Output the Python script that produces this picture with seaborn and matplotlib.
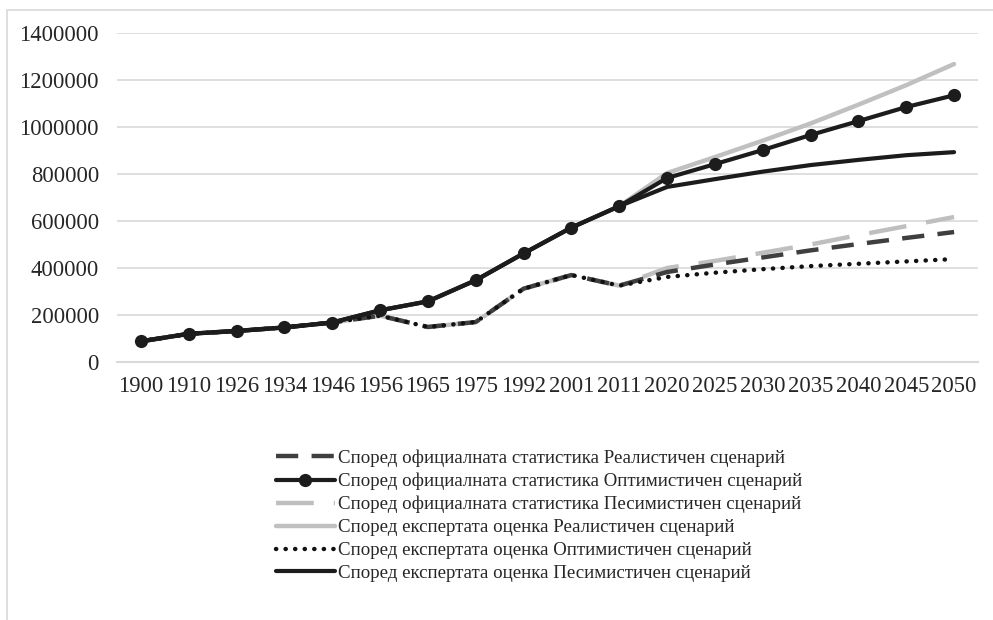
import matplotlib
matplotlib.use("Agg")
import matplotlib.pyplot as plt
import seaborn as sns
import pandas as pd
from matplotlib.patches import Rectangle

years = ["1900", "1910", "1926", "1934", "1946", "1956", "1965", "1975", "1992",
         "2001", "2011", "2020", "2025", "2030", "2035", "2040", "2045", "2050"]

hist_low = [88000, 120000, 132000, 147000, 168000, 197000, 149000, 170000, 312000, 370000, 325000]
hist_high = [88000, 120000, 132000, 147000, 168000, 220000, 258000, 348000, 462000, 572000, 663000]

official_realistic = hist_low + [383000, 415000, 445000, 475000, 502000, 528000, 553000]
official_optimistic = hist_high + [783000, 842000, 902000, 966000, 1025000, 1085000, 1135000]
official_pessimistic = hist_low + [400000, 430000, 465000, 500000, 540000, 578000, 617000]
expert_realistic = hist_high + [804000, 872000, 942000, 1015000, 1095000, 1178000, 1268000]
expert_optimistic = hist_low + [362000, 380000, 395000, 408000, 418000, 428000, 438000]
expert_pessimistic = hist_high + [745000, 778000, 810000, 838000, 860000, 880000, 893000]

labels = [
    "Според официалната статистика Реалистичен сценарий",
    "Според официалната статистика Оптимистичен сценарий",
    "Според официалната статистика Песимистичен сценарий",
    "Според експертата оценка Реалистичен сценарий",
    "Според експертата оценка Оптимистичен сценарий",
    "Според експертата оценка Песимистичен сценарий",
]
series = [official_realistic, official_optimistic, official_pessimistic,
          expert_realistic, expert_optimistic, expert_pessimistic]

styles = [
    dict(color="#3f3f3f", lw=3.2, dashes=(5, 3), marker=None, cap="butt"),
    dict(color="#1c1c1c", lw=3.0, dashes=None, marker="o", cap="round"),
    dict(color="#bfbfbf", lw=3.2, dashes=(8.5, 4.5), marker=None, cap="butt"),
    dict(color="#c0c0c0", lw=3.2, dashes=None, marker=None, cap="round"),
    dict(color="#111111", lw=3.2, dashes=(0.05, 2.1), marker=None, cap="round"),
    dict(color="#1c1c1c", lw=3.0, dashes=None, marker=None, cap="round"),
]
draw_order = [3, 2, 0, 4, 5, 1]

sns.set_theme(style="white")
plt.rcParams["font.family"] = ["Liberation Serif", "DejaVu Serif"]

fig = plt.figure(figsize=(9.93, 6.2), dpi=100)
ax = fig.add_axes([117 / 993, 1 - 362 / 620, (978 - 117) / 993, (362 - 33) / 620])

handles = {}
for i in draw_order:
    st = styles[i]
    df = pd.DataFrame({"year": years, "value": series[i]})
    sns.lineplot(data=df, x="year", y="value", ax=ax, color=st["color"], lw=st["lw"],
                 marker=st["marker"], markersize=9.5 if st["marker"] else None,
                 markeredgewidth=0, sort=False, label=labels[i], zorder=3 + draw_order.index(i))
    line = ax.get_lines()[-1]
    if st["dashes"]:
        line.set_dashes(st["dashes"])
        line.set_dash_capstyle(st["cap"])
    else:
        line.set_solid_capstyle(st["cap"])
    line.set_solid_joinstyle("round")
    handles[i] = line

ax.set_ylim(0, 1400000)
ax.set_xlim(-0.5, len(years) - 0.5)
ax.set_yticks(range(0, 1400001, 200000))
ax.set_yticklabels([str(v) for v in range(0, 1400001, 200000)])
ax.set_xlabel("")
ax.set_ylabel("")
ax.yaxis.grid(True, color="#d9d9d9", lw=1.2)
ax.set_axisbelow(True)
for s in ["top", "right", "left"]:
    ax.spines[s].set_visible(False)
ax.spines["bottom"].set_color("#d9d9d9")
ax.spines["bottom"].set_linewidth(1.5)
ax.tick_params(axis="y", length=0, pad=13, labelsize=16.3, labelcolor="#262626")
ax.tick_params(axis="x", length=0, pad=10, labelsize=16.3, labelcolor="#262626")
ax.legend_.remove()

fig.legend([handles[i] for i in range(6)], labels, loc="upper left",
           bbox_to_anchor=(268 / 993, 1 - 442 / 620), frameon=False,
           fontsize=13.6, handlelength=3.15, handletextpad=0.15,
           labelspacing=0.3, borderaxespad=0, labelcolor="#262626")

fig.patches.append(Rectangle((7 / 993, -0.1), 1.2, 1 - 10 / 620 + 0.1,
                             transform=fig.transFigure, fill=False,
                             edgecolor="#d9d9d9", lw=1.2, zorder=0))

fig.savefig("out.png", dpi=100)
